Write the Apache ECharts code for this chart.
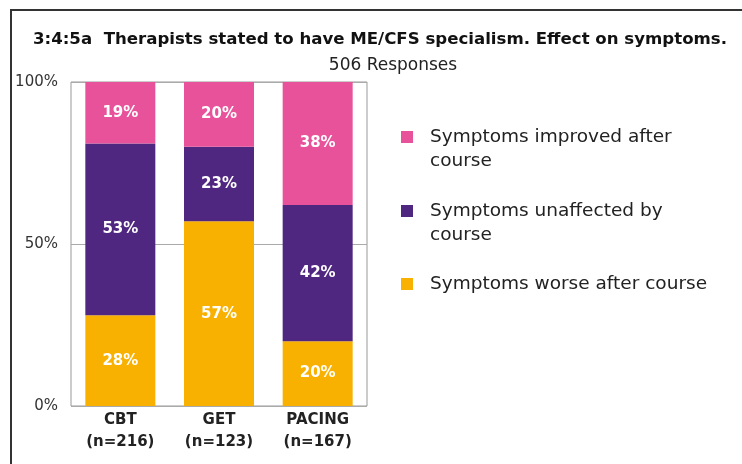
<!DOCTYPE html>
<html>
<head>
<meta charset="utf-8">
<script src="https://cdn.jsdelivr.net/npm/echarts@6/dist/echarts.min.js"></script>
<style>
  html, body { margin: 0; padding: 0; background: #fff; }
  #chart { width: 742px; height: 464px; }
</style>
</head>
<body>
<div id="chart"></div>
<script>
// categories and stacked percentages
const categories = ['CBT\n(n=216)', 'GET\n(n=123)', 'PACING\n(n=167)'];
const worse = [28, 57, 20];
const unaffected = [53, 23, 42];
const improved = [19, 20, 38];
const seriesNames = ['Symptoms improved after course', 'Symptoms unaffected by course', 'Symptoms worse after course'];
const colors = { improved: '#e8529a', unaffected: '#4f2680', worse: '#f8b100' };

const font = 'DejaVu Sans';

const chart = echarts.init(document.getElementById('chart'));

// each legend item gets its own legend so the icon sits on the first text line
function legendFor(name, top, wrapped) {
  return {
    data: [name],
    left: 401,
    top: top,
    padding: 0,
    itemWidth: 12,
    itemHeight: 12,
    itemGap: 0,
    selectedMode: false,
    icon: 'rect',
    formatter: function (n) {
      if (!wrapped) return n;
      const i = n.lastIndexOf(' ');
      return '\n' + n.slice(0, i) + '\n' + n.slice(i + 1);
    },
    textStyle: {
      fontFamily: font,
      fontSize: 18.5,
      color: '#222',
      lineHeight: 24,
      padding: [0, 0, 0, 12]
    }
  };
}

const label = {
  show: true,
  position: 'inside',
  color: '#fff',
  fontFamily: font,
  fontWeight: 'bold',
  fontSize: 15,
  formatter: '{c}%'
};

chart.setOption({
  animation: false,
  title: [{
    text: '3:4:5a  Therapists stated to have ME/CFS specialism. Effect on symptoms.',
    left: 375,
    textAlign: 'center',
    top: 26,
    textStyle: { fontFamily: font, fontWeight: 'bold', fontSize: 16.6, color: '#111' }
  }, {
    text: '506 Responses',
    left: 388,
    textAlign: 'center',
    top: 52,
    textStyle: { fontFamily: font, fontWeight: 'normal', fontSize: 17, color: '#222' }
  }],
  graphic: [{
    type: 'rect',
    shape: { x: 11, y: 10, width: 800, height: 600 },
    style: { fill: 'none', stroke: '#333', lineWidth: 2 },
    silent: true
  }],
  legend: [
    legendFor(seriesNames[0], 101, true),
    legendFor(seriesNames[1], 175, true),
    legendFor(seriesNames[2], 272, false)
  ],
  grid: {
    left: 71, right: 375, top: 82, bottom: 58,
    show: true, borderColor: '#999', borderWidth: 1
  },
  xAxis: {
    type: 'category',
    data: categories,
    axisLine: { show: false },
    axisTick: { show: false },
    axisLabel: {
      fontFamily: font, fontWeight: 'bold', fontSize: 15, color: '#222',
      lineHeight: 22, margin: 3
    }
  },
  yAxis: {
    type: 'value',
    min: 0, max: 100, interval: 50,
    axisLine: { show: false },
    axisTick: { show: false },
    axisLabel: { formatter: '{value}%', fontFamily: font, fontSize: 15, color: '#333', margin: 13 },
    splitLine: { lineStyle: { color: '#aaa', width: 1 } }
  },
  series: [{
    name: seriesNames[2], type: 'bar', stack: 'all', data: worse,
    barWidth: 70, itemStyle: { color: colors.worse }, label: label
  }, {
    name: seriesNames[1], type: 'bar', stack: 'all', data: unaffected,
    barWidth: 70, itemStyle: { color: colors.unaffected }, label: label
  }, {
    name: seriesNames[0], type: 'bar', stack: 'all', data: improved,
    barWidth: 70, itemStyle: { color: colors.improved }, label: label
  }]
});
</script>
</body>
</html>
